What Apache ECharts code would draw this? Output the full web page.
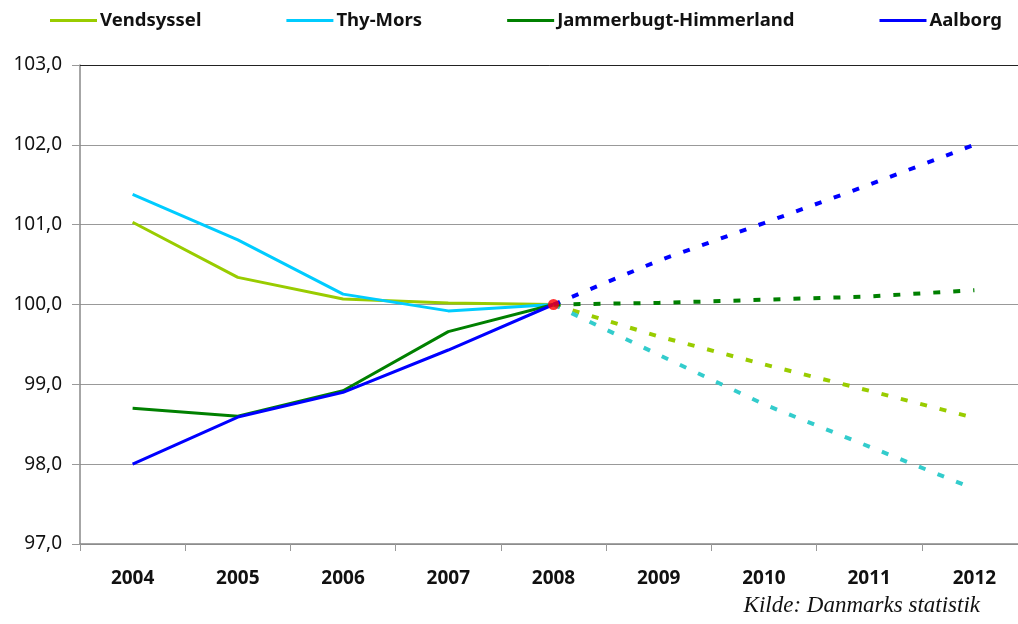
<!DOCTYPE html>
<html>
<head>
<meta charset="utf-8">
<script src="https://cdn.jsdelivr.net/npm/echarts@6/dist/echarts.min.js"></script>
<style>
  body { margin: 0; background: #fff; }
  #main { width: 1018px; height: 624px; }
</style>
</head>
<body>
<div id="main"></div>
<script>
var years = ['2004','2005','2006','2007','2008','2009','2010','2011','2012'];

// faktiske tal 2004-2008 (2008 = 100)
var vendsyssel = [101.03, 100.34, 100.07, 100.02, 100.0, null, null, null, null];
var thyMors = [101.38, 100.81, 100.13, 99.92, 100.0, null, null, null, null];
var jammerbugt = [98.70, 98.60, 98.92, 99.66, 100.0, null, null, null, null];
var aalborg = [98.0, 98.59, 98.90, 99.43, 100.0, null, null, null, null];

// fremskrivning 2008-2012
var vendsysselProg = [null, null, null, null, 100.0, 99.60, 99.25, 98.92, 98.58];
var thyMorsProg = [null, null, null, null, 100.0, 99.37, 98.75, 98.22, 97.69];
var jammerbugtProg = [null, null, null, null, 100.0, 100.02, 100.06, 100.10, 100.18];
var aalborgProg = [null, null, null, null, 100.0, 100.55, 101.02, 101.50, 102.0];

var basis = [null, null, null, null, 100.0, null, null, null, null];

var fmt = function (v) { return v.toFixed(1).replace('.', ','); };

function actual(name, color, data) {
    return {
        name: name, type: 'line', data: data, symbol: 'none',
        lineStyle: {color: color, width: 3}, itemStyle: {color: color}
    };
}
function prog(name, color, data) {
    return {
        name: name, type: 'line', data: data, symbol: 'none',
        lineStyle: {color: color, width: 4, type: [7, 13]}, itemStyle: {color: color}
    };
}

option = {
    animation: false,
    backgroundColor: '#fff',
    legend: {
        data: ['Vendsyssel', 'Thy-Mors', 'Jammerbugt-Himmerland', 'Aalborg'],
        left: 50,
        top: 11,
        padding: 0,
        icon: 'rect',
        itemWidth: 47,
        itemHeight: 3,
        itemGap: 85,
        textStyle: {fontFamily: 'Noto Sans', fontWeight: 'bold', fontSize: 18.5, color: '#111', padding: [0, 0, 0, -2]}
    },
    grid: {left: 80, top: 65, width: 947, height: 479, outerBoundsMode: 'none', containLabel: false},
    xAxis: [
        {
            type: 'category',
            data: years,
            boundaryGap: true,
            axisLine: {lineStyle: {color: '#888', width: 1.5}},
            axisTick: {show: true, length: 7, lineStyle: {color: '#999'}},
            axisLabel: {margin: 25, fontFamily: 'Noto Sans', fontWeight: 'bold', fontSize: 19, color: '#111'}
        },
        {
            type: 'category',
            data: years,
            position: 'top',
            axisLine: {lineStyle: {color: '#222', width: 1}},
            axisTick: {show: false},
            axisLabel: {show: false}
        }
    ],
    yAxis: {
        type: 'value',
        min: 97,
        max: 103,
        interval: 1,
        axisLine: {show: true, lineStyle: {color: '#888', width: 1.5}},
        axisTick: {show: true, length: 8, lineStyle: {color: '#999'}},
        splitLine: {lineStyle: {color: '#999', width: 1.2}},
        axisLabel: {formatter: fmt, margin: 18, fontFamily: 'Noto Sans', fontSize: 19, color: '#111'}
    },
    graphic: [{
        type: 'text',
        right: 38,
        top: 594,
        style: {text: 'Kilde: Danmarks statistik', font: 'italic 23px "Liberation Serif"', fill: '#111'}
    }],
    series: [
        actual('Vendsyssel', '#99cc00', vendsyssel),
        actual('Thy-Mors', '#00ccff', thyMors),
        actual('Jammerbugt-Himmerland', '#008000', jammerbugt),
        actual('Aalborg', '#0000ff', aalborg),
        prog('Vendsyssel prognose', '#99cc00', vendsysselProg),
        prog('Thy-Mors prognose', '#33cccc', thyMorsProg),
        prog('Jammerbugt-Himmerland prognose', '#008000', jammerbugtProg),
        prog('Aalborg prognose', '#0000ff', aalborgProg),
        {
            name: 'Basis', type: 'scatter', data: basis, symbolSize: 11, z: 10,
            itemStyle: {color: '#ff0000'}
        }
    ]
};
var myChart = echarts.init(document.getElementById('main'));
myChart.setOption(option);
</script>
</body>
</html>
